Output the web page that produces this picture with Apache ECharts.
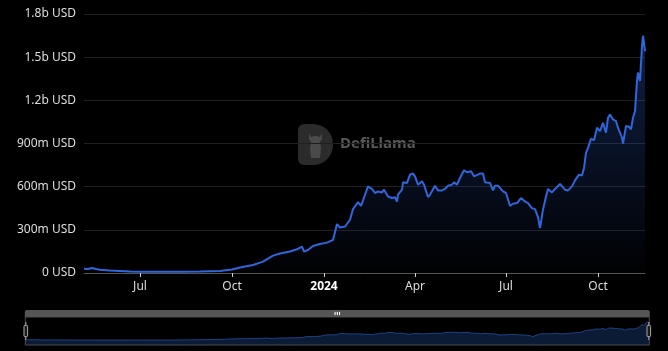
<!DOCTYPE html>
<html>
<head>
<meta charset="utf-8">
<script src="https://cdn.jsdelivr.net/npm/echarts@6/dist/echarts.min.js"></script>
<style>
html,body{margin:0;padding:0;background:#000;}
#chart{width:668px;height:351px;}
</style>
</head>
<body>
<div id="chart"></div>
<script>
// Dates of the TVL series
const dates = ['2023-05-06','2023-05-10','2023-05-14','2023-05-18','2023-05-22','2023-06-01','2023-06-11','2023-06-21','2023-07-01','2023-07-21','2023-08-10','2023-08-30','2023-09-19','2023-10-01','2023-10-09','2023-10-22','2023-11-01','2023-11-11','2023-11-18','2023-11-28','2023-12-05','2023-12-10','2023-12-12','2023-12-16','2023-12-21','2023-12-28','2024-01-04','2024-01-10','2024-01-14','2024-01-17','2024-01-22','2024-01-27','2024-01-30','2024-02-04','2024-02-07','2024-02-11','2024-02-14','2024-02-18','2024-02-21','2024-02-24','2024-02-28','2024-03-01','2024-03-05','2024-03-09','2024-03-12','2024-03-14','2024-03-15','2024-03-19','2024-03-20','2024-03-24','2024-03-27','2024-03-30','2024-04-01','2024-04-04','2024-04-08','2024-04-10','2024-04-14','2024-04-16','2024-04-21','2024-04-24','2024-04-28','2024-05-01','2024-05-04','2024-05-08','2024-05-10','2024-05-13','2024-05-16','2024-05-20','2024-05-23','2024-05-27','2024-05-30','2024-06-05','2024-06-08','2024-06-10','2024-06-15','2024-06-18','2024-06-20','2024-06-23','2024-06-28','2024-07-01','2024-07-05','2024-07-08','2024-07-12','2024-07-16','2024-07-20','2024-07-23','2024-07-27','2024-07-30','2024-08-02','2024-08-04','2024-08-07','2024-08-10','2024-08-12','2024-08-16','2024-08-19','2024-08-21','2024-08-24','2024-08-26','2024-08-29','2024-09-01','2024-09-05','2024-09-08','2024-09-10','2024-09-12','2024-09-15','2024-09-17','2024-09-19','2024-09-21','2024-09-24','2024-09-27','2024-09-30','2024-10-01','2024-10-03','2024-10-06','2024-10-09','2024-10-11','2024-10-13','2024-10-16','2024-10-19','2024-10-21','2024-10-23','2024-10-25','2024-10-26','2024-10-29','2024-11-01','2024-11-03','2024-11-05','2024-11-07','2024-11-09','2024-11-10','2024-11-12','2024-11-14','2024-11-15','2024-11-16','2024-11-17'];
// TVL values in millions of USD
const tvlMillions = [30,28,35,28,22,17,14,10,8,8,8,10,14,24,38,56,79,121,135,149,165,184,149,160,188,202,211,230,340,316,323,370,444,493,467,544,602,584,556,567,560,579,532,521,526,497,544,579,630,626,684,691,672,614,637,614,528,544,607,574,574,584,607,614,630,614,660,714,700,707,672,691,691,630,626,574,607,607,567,556,467,481,486,521,497,486,451,444,389,312,440,532,584,560,584,574,619,621,579,574,602,644,637,684,677,730,835,870,933,923,1010,1017,986,1044,975,1079,1102,1067,1056,1010,1021,940,900,1021,1017,998,1079,1125,1335,1393,1335,1579,1649,1600,1540];
const yTicks = [0, 300, 600, 900, 1200, 1500, 1800];
const monthNames = ['Jan','Feb','Mar','Apr','May','Jun','Jul','Aug','Sep','Oct','Nov','Dec'];
const watermarkText = 'DefiLlama';

const seriesData = dates.map((d, i) => [d, tvlMillions[i]]);

function fmtUsd(v) {
  if (v === 0) return '0 USD';
  if (v >= 1000) return (v / 1000) + 'b USD';
  return v + 'm USD';
}

const chart = echarts.init(document.getElementById('chart'), null, {renderer: 'canvas'});
const FONT = "'Noto Sans', 'Liberation Sans', sans-serif";
chart.setOption({
  backgroundColor: '#000000',
  animation: false,
  grid: {left: 84, right: 23, top: 14, bottom: 78, containLabel: false},
  xAxis: {
    type: 'time',
    min: 'dataMin',
    max: 'dataMax',
    boundaryGap: false,
    minInterval: 88 * 86400000,
    maxInterval: 93 * 86400000,
    axisLine: {show: true, lineStyle: {color: '#555555', width: 1}},
    axisTick: {show: true, length: 4, lineStyle: {color: '#cccccc'}},
    minorTick: {show: false},
    splitLine: {show: false},
    axisLabel: {
      color: '#dddddd',
      fontSize: 12,
      fontFamily: FONT,
      margin: 8,
      showMinLabel: false,
      showMaxLabel: false,
      hideOverlap: true,
      formatter: function (val) {
        const dt = new Date(val);
        const m = dt.getMonth();
        if (m === 0) return '{y|' + dt.getFullYear() + '}';
        return monthNames[m];
      },
      rich: {y: {fontWeight: 'bold', color: '#ffffff', fontSize: 12, fontFamily: FONT}}
    }
  },
  yAxis: {
    type: 'value',
    min: yTicks[0],
    max: yTicks[yTicks.length - 1],
    interval: 300,
    axisLine: {show: false},
    axisTick: {show: false},
    splitLine: {show: true, lineStyle: {color: '#1f1f1f', width: 1}},
    axisLabel: {color: '#dddddd', fontSize: 12, fontFamily: FONT, margin: 8, formatter: fmtUsd}
  },
  dataZoom: [{
    type: 'slider',
    xAxisIndex: 0,
    start: 0,
    end: 100,
    left: 22,
    right: 21,
    bottom: 12,
    height: 29,
    backgroundColor: 'rgba(0,0,0,0)',
    borderColor: '#4a4a4a',
    fillerColor: 'rgba(0,0,0,0)',
    showDetail: false,
    brushSelect: true,
    handleSize: '62%',
    handleStyle: {color: '#1a1a1a', borderColor: '#aaaaaa', borderWidth: 1},
    moveHandleSize: 7,
    moveHandleStyle: {color: '#555555', opacity: 1},
    emphasis: {moveHandleStyle: {color: '#666666'}},
    dataBackground: {
      lineStyle: {color: '#1f4384', width: 1, opacity: 1},
      areaStyle: {color: '#0b1a35', opacity: 1}
    },
    selectedDataBackground: {
      lineStyle: {color: '#1f4384', width: 1, opacity: 1},
      areaStyle: {color: '#0b1a35', opacity: 1}
    }
  }],
  graphic: [{
    type: 'group',
    left: 298,
    top: 124,
    z: 0,
    children: [
      {type: 'rect', shape: {x: 0, y: 0, width: 35, height: 41, r: [6, 20, 20, 6]}, style: {fill: '#2b2b2b'}},
      {type: 'polygon', shape: {points: [[11,9],[13,13],[16,12],[19,12],[22,13],[24,9],[24,15],[22,18],[23,24],[22,34],[13,34],[12,24],[13,18],[11,15]]}, style: {fill: '#4a4a4a'}},
      {type: 'text', left: 42, top: 12, style: {text: watermarkText, fill: '#585858', font: "bold 15px 'Noto Sans', sans-serif"}}
    ]
  }],
  series: [{
    type: 'line',
    data: seriesData,
    showSymbol: false,
    smooth: false,
    lineStyle: {color: '#3066dc', width: 2},
    itemStyle: {color: '#3066dc'},
    areaStyle: {
      color: new echarts.graphic.LinearGradient(0, 0, 0, 1, [
        {offset: 0, color: 'rgba(48,102,220,0.45)'},
        {offset: 1, color: 'rgba(48,102,220,0.02)'}
      ])
    },
    z: 3
  }]
});
</script>
</body>
</html>
